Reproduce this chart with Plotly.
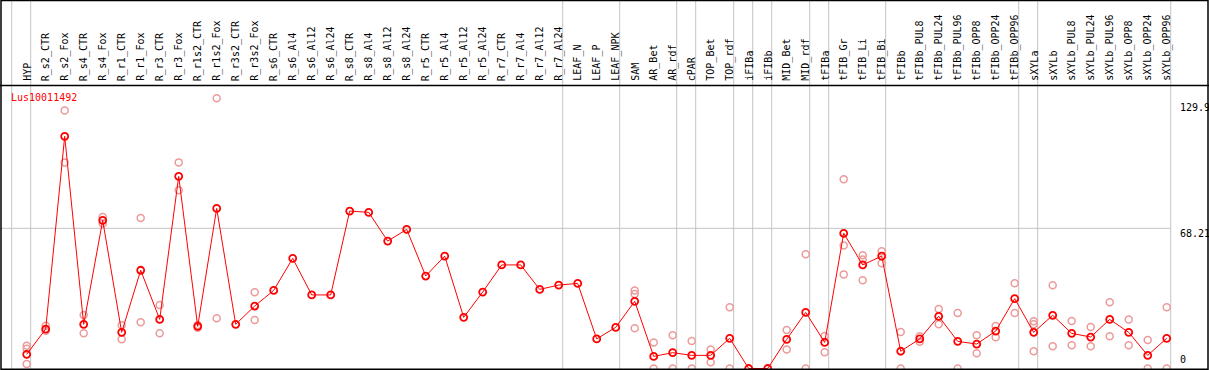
import plotly.graph_objects as go

gene_name = "Lus10011492"

categories = [
    "HYP", "R_s2_CTR", "R_s2_Fox", "R_s4_CTR", "R_s4_Fox", "R_r1_CTR", "R_r1_Fox",
    "R_r3_CTR", "R_r3_Fox", "R_r1s2_CTR", "R_r1s2_Fox", "R_r3s2_CTR", "R_r3s2_Fox",
    "R_s6_CTR", "R_s6_Al4", "R_s6_Al12", "R_s6_Al24", "R_s8_CTR", "R_s8_Al4", "R_s8_Al12",
    "R_s8_Al24", "R_r5_CTR", "R_r5_Al4", "R_r5_Al12", "R_r5_Al24", "R_r7_CTR", "R_r7_Al4",
    "R_r7_Al12", "R_r7_Al24", "LEAF_N", "LEAF_P", "LEAF_NPK", "SAM", "AR_Bet", "AR_rdf",
    "cPAR", "TOP_Bet", "TOP_rdf", "iFIBa", "iFIBb", "MID_Bet", "MID_rdf", "tFIBa",
    "tFIB_Gr", "tFIB_Li", "tFIB_Bi", "tFIBb", "tFIBb_PUL8", "tFIBb_PUL24", "tFIBb_PUL96",
    "tFIBb_OPP8", "tFIBb_OPP24", "tFIBb_OPP96", "sXYLa", "sXYLb", "sXYLb_PUL8",
    "sXYLb_PUL24", "sXYLb_PUL96", "sXYLb_OPP8", "sXYLb_OPP24", "sXYLb_OPP96",
]

mean_values = [
    6.9, 19.2, 113.0, 21.5, 72.1, 17.6, 47.8, 23.9, 93.5, 20.5, 77.9, 21.5, 30.4,
    38.0, 53.6, 35.8, 35.8, 76.6, 76.0, 62.0, 67.7, 45.0, 54.7, 24.9, 37.2, 50.4, 50.4,
    38.5, 40.6, 41.4, 14.4, 20.0, 32.7, 5.9, 7.7, 6.4, 6.4, 14.7, 0.0, 0.0, 14.2, 27.3,
    12.7, 65.8, 50.4, 54.7, 8.4, 14.4, 25.4, 13.2, 11.9, 18.2, 34.0, 17.6, 25.9, 17.1,
    15.3, 23.9, 17.6, 6.4, 14.7,
]

N = None
rep1 = [
    11.1, 20.8, 125.6, 26.0, 73.7, 21.0, 73.2, 30.9, 100.3, 21.2, 131.5, N, 37.1,
    N, N, N, N, N, N, N, N, N, N, N, N, N, N, N, N, N, N, N,
    38.0, 12.7, 16.2, 13.4, 9.3, 29.8, N, N, 18.7, 55.6, 15.8, 92.1, 55.1, 57.0, 17.8,
    15.7, 29.0, 27.0, 16.2, 20.7, 41.5, 23.0, 40.5, 23.1, 20.2, 32.2, 23.9, 13.9, 29.8,
]
rep2 = [
    9.6, 18.4, 100.3, 17.1, 70.6, 14.2, 22.5, 17.1, 86.7, 19.8, 24.4, N, 23.6,
    N, N, N, N, N, N, N, N, N, N, N, N, N, N, N, N, N, N, N,
    36.3, 0.0, 0.0, 0.0, 3.0, 0.0, N, N, 9.3, 0.0, 7.9, 59.9, 53.0, 51.2, 0.0,
    13.0, 21.5, 0.0, 7.4, 15.2, 27.0, 21.5, 10.8, 11.3, 10.8, 15.7, 11.3, 0.0, 0.0,
]
rep3 = [
    2.2, N, N, N, N, N, N, N, N, N, N, N, N,
    N, N, N, N, N, N, N, N, N, N, N, N, N, N, N, N, N, N, N,
    19.6, N, N, N, N, N, N, N, N, N, N, 45.8, 42.9, N, N,
    N, N, N, N, N, N, 8.4, N, N, N, N, N, N, N,
]

# category index after which a group separator is drawn (-1 = before first)
group_breaks = [-1, 0, 28, 31, 34, 35, 37, 38, 39, 41, 42, 45, 52, 53, 60]
right_labels = [129.9, 68.21, 0]
ref_line_value = 68.21

W, H = 1209, 370
X_RANGE = [-1.405, 62.226]
Y_RANGE = [-0.73, 179.32]
sep_off = 4 / 19

idx = list(range(len(categories)))

rx, ry = [], []
for reps in (rep1, rep2, rep3):
    for i, v in enumerate(reps):
        if v is not None:
            rx.append(i)
            ry.append(v)

fig = go.Figure()
fig.add_trace(go.Scatter(
    x=rx, y=ry, mode="markers",
    marker=dict(symbol="circle-open", size=7, color="#ec9a9a", line=dict(width=1.5, color="#ec9a9a")),
    hoverinfo="skip", showlegend=False,
))
fig.add_trace(go.Scatter(
    x=idx, y=mean_values, mode="lines+markers",
    line=dict(color="#ff0000", width=1),
    marker=dict(symbol="circle-open", size=7, color="#ff0000", line=dict(width=1.8, color="#ff0000")),
    text=categories, showlegend=False,
))

shapes = []
for b in group_breaks:
    shapes.append(dict(type="line", xref="x", yref="paper", x0=b + sep_off, x1=b + sep_off,
                       y0=0, y1=1, line=dict(color="#c4c4c4", width=1), layer="below"))
shapes.append(dict(type="line", xref="x", yref="y", x0=X_RANGE[0], x1=60 + sep_off,
                   y0=ref_line_value, y1=ref_line_value,
                   line=dict(color="#c4c4c4", width=1), layer="below"))
# separator below label band
shapes.append(dict(type="line", xref="paper", yref="paper", x0=0, x1=1,
                   y0=1 - 85.5 / H, y1=1 - 85.5 / H, line=dict(color="black", width=1.5)))
# outer frame
shapes.append(dict(type="rect", xref="paper", yref="paper", x0=1 / W, x1=1 - 1 / W,
                   y0=0.8 / H, y1=1 - 0.5 / H, line=dict(color="black", width=1.5)))

ann = []
mono = "DejaVu Sans Mono"
for i, c in enumerate(categories):
    ann.append(dict(x=i, y=1 - 83 / H, xref="x", yref="paper", text=c, showarrow=False,
                    textangle=-90, xanchor="center", yanchor="bottom",
                    font=dict(family=mono, size=10, color="black")))
for v in right_labels:
    if v == 0:
        ann.append(dict(x=1178 / W, y=1 - 367 / H, xref="paper", yref="paper", text=str(v),
                        showarrow=False, xanchor="left", yanchor="bottom",
                        font=dict(family=mono, size=10, color="black")))
    else:
        ann.append(dict(x=1178 / W, y=v, xref="paper", yref="y", text=str(v),
                        showarrow=False, xanchor="left", yanchor="top", yshift=2,
                        font=dict(family=mono, size=10, color="black")))
ann.append(dict(x=9 / W, y=1 - 97 / H, xref="paper", yref="paper", text=gene_name,
                showarrow=False, xanchor="left", yanchor="middle",
                font=dict(family=mono, size=10, color="#ff0000")))

fig.update_layout(
    width=W, height=H, margin=dict(l=0, r=0, t=0, b=0),
    paper_bgcolor="white", plot_bgcolor="white",
    xaxis=dict(range=X_RANGE, visible=False, fixedrange=True),
    yaxis=dict(range=Y_RANGE, visible=False, fixedrange=True),
    shapes=shapes, annotations=ann, showlegend=False,
)

fig.write_html(
    "out.html",
    config={"displayModeBar": False},
    post_script="document.body.style.margin='0';document.body.style.padding='0';document.body.style.overflow='hidden';",
)
